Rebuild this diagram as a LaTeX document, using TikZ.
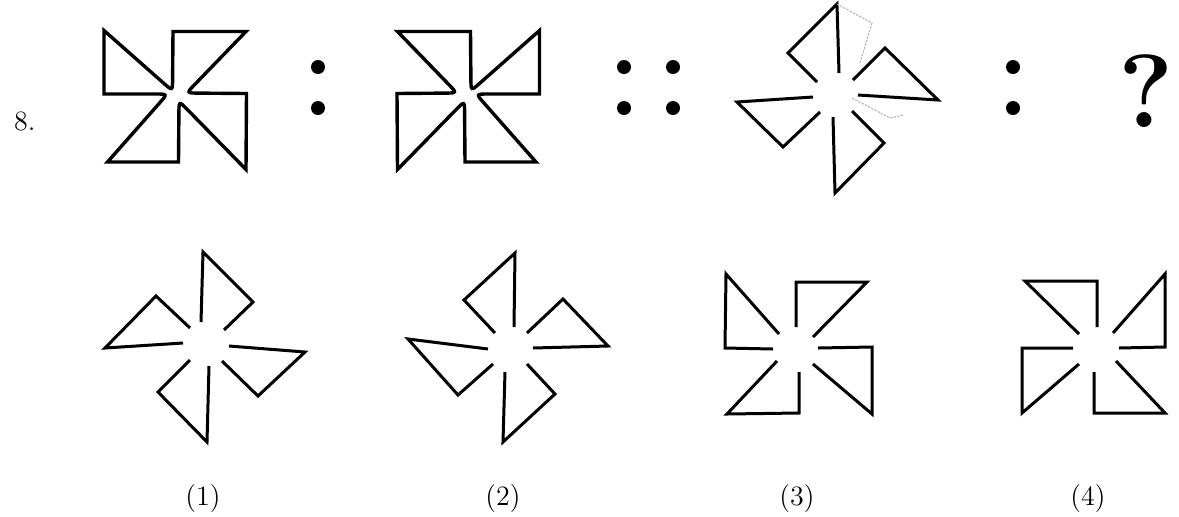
\documentclass[tikz,border=0pt]{standalone}
\usetikzlibrary{calc}
\tikzset{
  wheel/.style={line width=1.7pt, line join=miter},
  arm/.style={line width=1.5pt, line join=miter},
  dotmark/.style={circle, fill=black, inner sep=0pt, minimum size=7pt},
  scribble/.style={gray!60, line width=0.5pt, dash pattern=on 1.2pt off 0.6pt},
  lbl/.style={font=\fontsize{14}{16}\selectfont},
}
\begin{document}
\begin{tikzpicture}[x=0.5pt, y=-0.5pt]
\useasboundingbox (0,0) rectangle (1179,516);
% ---------- question number ----------
\node[lbl, anchor=base west] (num) at (7,130) {8.};
% ---------- figure 1 (closed pinwheel) ----------
\begin{scope}[shift={(175.5,100)}]
\coordinate (c1) at (-71.5,-69.5); \coordinate (v1) at (-3,-9);   \coordinate (e1) at (-2.5,-68.5);
\coordinate (c2) at (70.5,-68.5);  \coordinate (v2) at (11,-7);   \coordinate (e2) at (71,-6.5);
\coordinate (c3) at (70.5,69.5);   \coordinate (v3) at (3.5,1);   \coordinate (e3) at (3,62);
\coordinate (c4) at (-68,62);      \coordinate (v4) at (-8,-6);   \coordinate (e4) at (-71.5,-6);
\draw[wheel] (c1) -- ($(v1)!6pt!(c1)$) .. controls (v1) .. ($(v1)!6pt!(e1)$) -- (e1)
  -- (c2) -- ($(v2)!6pt!(c2)$) .. controls (v2) .. ($(v2)!6pt!(e2)$) -- (e2)
  -- (c3) -- ($(v3)!6pt!(c3)$) .. controls (v3) .. ($(v3)!6pt!(e3)$) -- (e3)
  -- (c4) -- ($(v4)!6pt!(c4)$) .. controls (v4) .. ($(v4)!6pt!(e4)$) -- (e4) -- cycle;
\end{scope}
% ---------- figure 2 (mirror of figure 1) ----------
\begin{scope}[shift={(468,100)}, xscale=-1]
\coordinate (c1) at (-71.5,-69.5); \coordinate (v1) at (-3,-9);   \coordinate (e1) at (-2.5,-68.5);
\coordinate (c2) at (70.5,-68.5);  \coordinate (v2) at (11,-7);   \coordinate (e2) at (71,-6.5);
\coordinate (c3) at (70.5,69.5);   \coordinate (v3) at (3.5,1);   \coordinate (e3) at (3,62);
\coordinate (c4) at (-68,62);      \coordinate (v4) at (-8,-6);   \coordinate (e4) at (-71.5,-6);
\draw[wheel] (c1) -- ($(v1)!6pt!(c1)$) .. controls (v1) .. ($(v1)!6pt!(e1)$) -- (e1)
  -- (c2) -- ($(v2)!6pt!(c2)$) .. controls (v2) .. ($(v2)!6pt!(e2)$) -- (e2)
  -- (c3) -- ($(v3)!6pt!(c3)$) .. controls (v3) .. ($(v3)!6pt!(e3)$) -- (e3)
  -- (c4) -- ($(v4)!6pt!(c4)$) .. controls (v4) .. ($(v4)!6pt!(e4)$) -- (e4) -- cycle;
\end{scope}
% ---------- figure 3 (open arms) ----------
\begin{scope}[shift={(836,98)}]
\draw[arm] (3,-25) -- (1,-94) -- (-48,-45) -- (-19,-16);
\draw[arm] (22,-3) -- (102,2) -- (49,-50) -- (17,-18);
\draw[arm] (-3,19) -- (-1,95) -- (48,45) -- (16,13);
\draw[arm] (-23,-1) -- (-99,4) -- (-53,49) -- (-16,14);
% faint pencil marks
\draw[scribble] (1,-94) -- (36,-75) -- (24,-35);
\draw[scribble] (16,0) -- (54,20) -- (67,17);
\end{scope}
% ---------- colons ----------
\foreach \x in {318,624,673,1013}{
  \node[dotmark] at (\x,67) {};
  \node[dotmark] at (\x,108) {};
}
\node[anchor=base, font=\fontsize{52}{52}\selectfont\bfseries] (ask) at (1146,127) {?};
% ---------- option 1 ----------
\begin{scope}[shift={(206,346)}]
\draw[arm] (-5,-24) -- (-3,-94) -- (47,-44) -- (18,-16);
\draw[arm] (23,0) -- (99,6) -- (52,50) -- (16,15);
\draw[arm] (3,20) -- (1,96) -- (-48,46) -- (-16,14);
\draw[arm] (-23,-3) -- (-101,2) -- (-50,-50) -- (-16,-18);
\end{scope}
% ---------- option 2 ----------
\begin{scope}[shift={(510,348)}]
\draw[arm] (4,-21) -- (5,-95) -- (-46,-48) -- (-15,-15);
\draw[arm] (23,0) -- (98,-2) -- (53,-49) -- (17,-15);
\draw[arm] (-5,24) -- (-7,94) -- (45,46) -- (17,16);
\draw[arm] (-22,1) -- (-102,-9) -- (-52,47) -- (-17,16);
\end{scope}
% ---------- option 3 ----------
\begin{scope}[shift={(798,348)}]
\draw[arm] (-19,-14) -- (-72,-74) -- (-73,0) -- (-25,1);
\draw[arm] (-2,-21) -- (-2,-66) -- (69,-66) -- (15,-11);
\draw[arm] (20,0) -- (74,-1) -- (74,66) -- (15,16);
\draw[arm] (1,24) -- (1,65) -- (-71,66) -- (-21,13);
\end{scope}
% ---------- option 4 ----------
\begin{scope}[shift={(1095,347)}]
\draw[arm] (-16,-13) -- (-70,-66) -- (2,-66) -- (2,-20);
\draw[arm] (18,-14) -- (70,-73) -- (70,0) -- (24,1);
\draw[arm] (21,14) -- (70,66) -- (-1,66) -- (-1,25);
\draw[arm] (-16,17) -- (-73,66) -- (-73,1) -- (-22,1);
\end{scope}
% ---------- option labels ----------
\node[lbl, anchor=base] (opt1) at (203,505) {(1)};
\node[lbl, anchor=base] (opt2) at (503,505) {(2)};
\node[lbl, anchor=base] (opt3) at (797,505) {(3)};
\node[lbl, anchor=base] (opt4) at (1088,505) {(4)};
\end{tikzpicture}
\end{document}
